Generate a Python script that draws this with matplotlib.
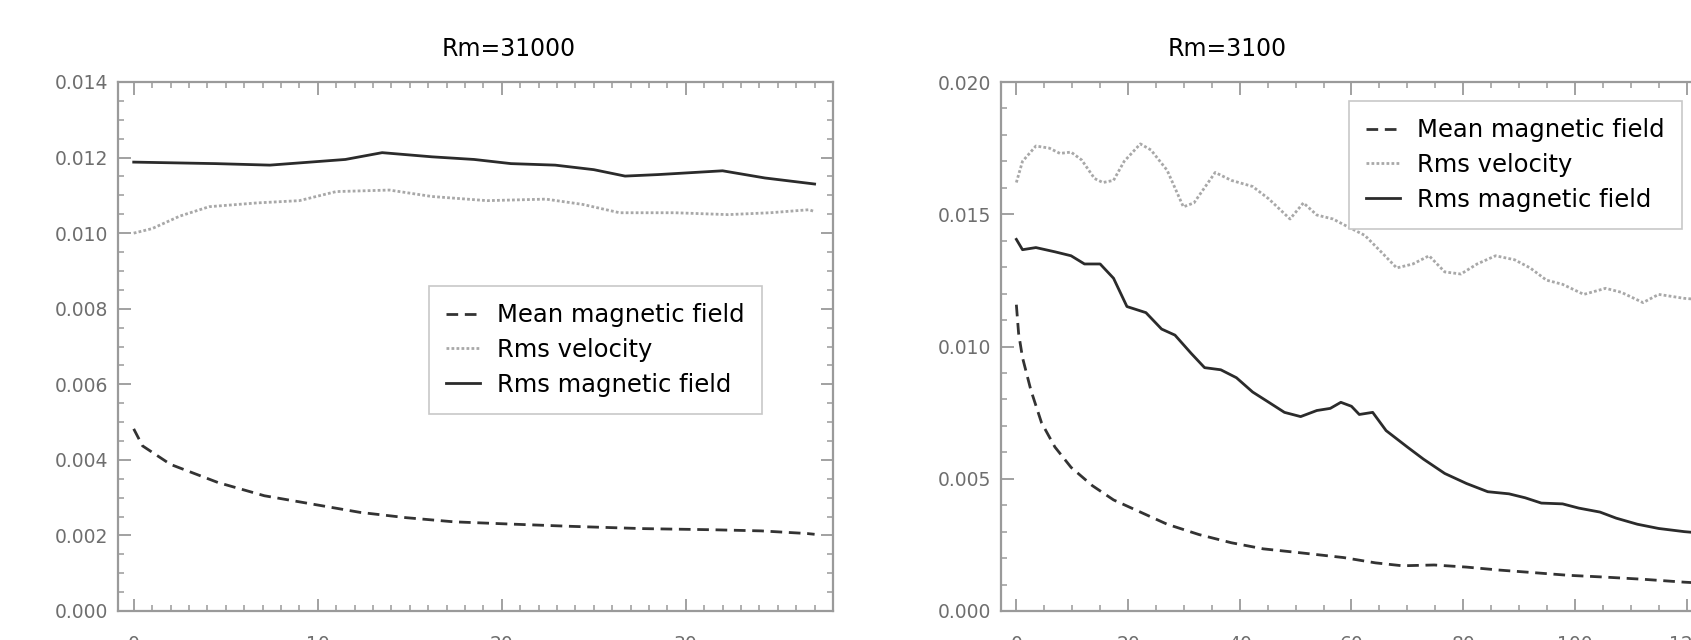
import matplotlib
matplotlib.use("Agg")
import matplotlib.pyplot as plt
from matplotlib.ticker import MultipleLocator, FormatStrFormatter

# ---- Rm=31000 (left panel) ----
left_mean_t = [0, 0.48, 2.0, 4.58, 7.1, 9.7, 12.3, 14.8, 17.4, 20.5, 23.8, 27.7, 31.5, 34.1, 36.6, 37.0]
left_mean = [0.00482, 0.00437, 0.00388, 0.00340, 0.00305, 0.00283, 0.00261, 0.00247, 0.00236,
             0.00230, 0.00224, 0.00218, 0.00215, 0.00212, 0.00205, 0.00203]

left_vel_t = [0, 1.0, 2.5, 4.1, 6.7, 9.0, 11.0, 13.9, 16.2, 19.2, 22.4, 24.4, 26.4, 29.4, 32.3, 34.6, 36.7, 37.0]
left_vel = [0.01000, 0.01012, 0.01045, 0.01070, 0.01080, 0.01086, 0.01110, 0.01114, 0.01097,
            0.01086, 0.01090, 0.01076, 0.01054, 0.01054, 0.01049, 0.01054, 0.01062, 0.01057]

left_rms_t = [0, 4.45, 7.4, 11.5, 13.5, 16.2, 18.5, 20.5, 22.9, 25.0, 26.7, 28.5, 32.0, 34.3, 37.0]
left_rms = [0.01188, 0.01184, 0.01180, 0.01195, 0.01213, 0.01202, 0.01195, 0.01184, 0.01180,
            0.01168, 0.01151, 0.01155, 0.01165, 0.01146, 0.01130]

# ---- Rm=3100 (right panel) ----
right_mean_t = [0, 0.4, 1.1, 2.6, 4.5, 6.9, 9.8, 13.6, 17.4, 22.2, 27.0, 32.7, 38.5, 44.2, 50.9,
                58.6, 64.3, 69.1, 74.8, 80.6, 86.3, 92.0, 98.8, 105.5, 112.2, 119.6, 124.0]
right_mean = [0.01158, 0.01050, 0.00958, 0.00835, 0.00712, 0.00620, 0.00543, 0.00474, 0.00420,
              0.00374, 0.00328, 0.00289, 0.00258, 0.00235, 0.00220, 0.00202, 0.00182, 0.00171,
              0.00174, 0.00166, 0.00155, 0.00146, 0.00135, 0.00128, 0.00120, 0.00109, 0.00104]

right_vel_t = [0, 1.1, 3.5, 5.9, 7.8, 9.8, 11.7, 14.0, 15.5, 17.4, 19.3, 22.2, 24.1, 27.0, 29.9,
               31.8, 35.6, 38.5, 42.3, 45.2, 49.0, 51.4, 53.8, 56.7, 59.5, 62.4, 65.3, 68.1, 71.0,
               73.9, 76.7, 79.6, 82.5, 85.8, 89.2, 92.0, 94.9, 97.8, 101.6, 105.5, 108.3, 112.2,
               115.0, 119.6, 124.0]
right_vel = [0.01620, 0.01700, 0.01758, 0.01750, 0.01730, 0.01735, 0.01705, 0.01635, 0.01620,
             0.01628, 0.01700, 0.01766, 0.01743, 0.01666, 0.01528, 0.01543, 0.01658, 0.01628,
             0.01605, 0.01558, 0.01482, 0.01543, 0.01497, 0.01482, 0.01451, 0.01420, 0.01358,
             0.01297, 0.01312, 0.01343, 0.01282, 0.01274, 0.01312, 0.01343, 0.01328, 0.01297,
             0.01251, 0.01235, 0.01197, 0.01220, 0.01205, 0.01166, 0.01197, 0.01182, 0.01175]

right_rms_t = [0, 1.1, 3.5, 6.9, 9.8, 12.2, 15.0, 17.4, 19.8, 23.2, 26.0, 28.4, 31.3, 33.7, 36.6,
               39.4, 42.3, 45.2, 48.0, 50.9, 53.8, 56.2, 58.1, 60.0, 61.4, 63.8, 66.2, 70.0, 72.9,
               76.7, 80.6, 84.4, 88.2, 91.1, 94.0, 97.8, 100.7, 104.5, 107.4, 111.2, 115.0, 119.6, 124.0]
right_rms = [0.01405, 0.01366, 0.01374, 0.01358, 0.01343, 0.01312, 0.01312, 0.01258, 0.01151,
             0.01128, 0.01066, 0.01043, 0.00974, 0.00920, 0.00912, 0.00882, 0.00828, 0.00789,
             0.00751, 0.00735, 0.00758, 0.00766, 0.00789, 0.00774, 0.00743, 0.00751, 0.00682,
             0.00620, 0.00574, 0.00520, 0.00482, 0.00451, 0.00443, 0.00428, 0.00408, 0.00405,
             0.00389, 0.00374, 0.00351, 0.00328, 0.00312, 0.00300, 0.00292]

labels = ["Mean magnetic field", "Rms velocity", "Rms magnetic field"]

W, H = 1691, 640
fig = plt.figure(figsize=(W / 100, H / 100), dpi=100)
plt.rcParams["font.family"] = "DejaVu Sans"

frame_col = "#9a9a9a"
tick_col = "#6e6e6e"


def style_axes(ax, xmaj, xmin, ymaj, ymin):
    for sp in ax.spines.values():
        sp.set_color(frame_col)
        sp.set_linewidth(1.6)
    ax.xaxis.set_major_locator(MultipleLocator(xmaj))
    ax.xaxis.set_minor_locator(MultipleLocator(xmin))
    ax.yaxis.set_major_locator(MultipleLocator(ymaj))
    ax.yaxis.set_minor_locator(MultipleLocator(ymin))
    ax.yaxis.set_major_formatter(FormatStrFormatter("%.3f"))
    ax.tick_params(which="both", direction="in", top=True, right=True, color=frame_col)
    ax.tick_params(which="major", length=9, width=1.3)
    ax.tick_params(which="minor", length=4, width=1.1)
    ax.tick_params(axis="y", which="major", pad=7, labelsize=13.5, labelcolor=tick_col)
    ax.tick_params(axis="x", which="major", pad=17, labelsize=13.5, labelcolor=tick_col)


def draw(ax, mt, m, vt, v, rt, r):
    ax.plot(mt, m, color="#333333", lw=2.0, dashes=(4.2, 2.4), label=labels[0])
    ax.plot(vt, v, color="#a8a8a8", lw=2.0, linestyle=(0, (1, 0.8)), label=labels[1])
    ax.plot(rt, r, color="#2b2b2b", lw=2.0, label=labels[2])


def add_legend(ax, x0, y0):
    leg = ax.legend(loc="upper left", bbox_to_anchor=(x0 / W, 1 - y0 / H),
                    bbox_transform=fig.transFigure, fontsize=17.5, frameon=True,
                    fancybox=False, framealpha=1, edgecolor="#c8c8c8",
                    handlelength=1.4, handletextpad=0.7, labelspacing=0.45,
                    borderpad=0.7, borderaxespad=0)
    leg.get_frame().set_linewidth(1.2)
    return leg


# left panel
axL = fig.add_axes([117.7 / W, 1 - 611 / H, (833 - 117.7) / W, (611 - 82) / H])
draw(axL, left_mean_t, left_mean, left_vel_t, left_vel, left_rms_t, left_rms)
axL.set_xlim(-0.87, 38.0)
axL.set_ylim(0, 0.014)
style_axes(axL, 10, 1, 0.002, 0.0005)
add_legend(axL, 429, 286)
fig.text(509 / W, 1 - 49 / H, "Rm=31000", ha="center", va="center", fontsize=17)

# right panel (runs past the right edge of the image)
axR = fig.add_axes([1001 / W, 1 - 611 / H, (1714.5 - 1001) / W, (611 - 82) / H])
draw(axR, right_mean_t, right_mean, right_vel_t, right_vel, right_rms_t, right_rms)
axR.set_xlim(-2.75, 125)
axR.set_ylim(0, 0.020)
style_axes(axR, 20, 5, 0.005, 0.001)
add_legend(axR, 1349, 101)
fig.text(1227 / W, 1 - 49 / H, "Rm=3100", ha="center", va="center", fontsize=17)

fig.savefig("out.png", dpi=100)
